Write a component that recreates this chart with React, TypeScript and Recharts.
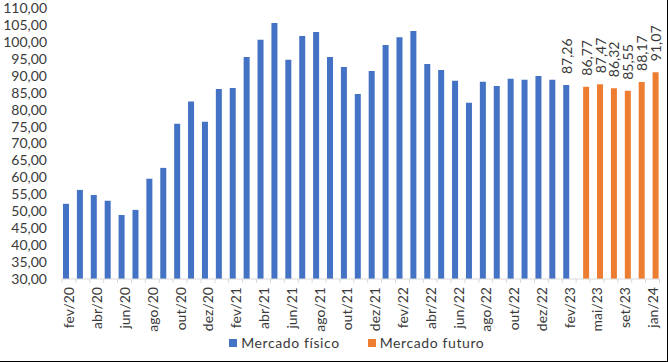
import { Bar, BarChart, LabelList, Legend, XAxis, YAxis } from 'recharts';

const CATEGORIES = [
  'fev/20', 'mar/20', 'abr/20', 'mai/20', 'jun/20', 'jul/20', 'ago/20', 'set/20', 'out/20', 'nov/20', 'dez/20',
  'jan/21', 'fev/21', 'mar/21', 'abr/21', 'mai/21', 'jun/21', 'jul/21', 'ago/21', 'set/21', 'out/21', 'nov/21', 'dez/21',
  'jan/22', 'fev/22', 'mar/22', 'abr/22', 'mai/22', 'jun/22', 'jul/22', 'ago/22', 'set/22', 'out/22', 'nov/22', 'dez/22',
  'jan/23', 'fev/23',
  'mar/23', 'mai/23', 'jul/23', 'set/23', 'nov/23', 'jan/24'
];

const FISICO = [
  52.2, 56.3, 54.8, 53.1, 48.9, 50.4, 59.6, 62.8, 75.8, 82.4, 76.4,
  86.1, 86.4, 95.5, 100.6, 105.6, 94.7, 101.7, 102.9, 95.5, 92.6, 84.6, 91.4,
  99.1, 101.4, 103.2, 93.5, 91.7, 88.5, 82.0, 88.2, 87.0, 89.1, 88.8, 89.9,
  88.8, 87.26
];

const FUTURO = [86.77, 87.47, 86.32, 85.55, 88.17, 91.07];

const Y_TICKS = [30, 35, 40, 45, 50, 55, 60, 65, 70, 75, 80, 85, 90, 95, 100, 105, 110];

const data = CATEGORIES.map((name, i) => ({
  name,
  fisico: i < FISICO.length ? FISICO[i] : null,
  futuro: i >= FISICO.length ? FUTURO[i - FISICO.length] : null
}));

const W = 667;
const H = 361;
const LEFT = 62;
const RIGHT = 7.5;
const BAND = (W - LEFT - RIGHT) / CATEGORIES.length;
const FONT = 'Lato, "Open Sans", sans-serif';
const TEXT = '#3a3a3a';
const BLUE = '#4472C4';
const ORANGE = '#ED7D31';
const AXIS = '#d9d9d9';

const fmt = (v: number) => v.toFixed(2).replace('.', ',');

const XTick = ({ x, y, payload }: any) => (
  <g>
    <line x1={x - BAND / 2} y1={y} x2={x - BAND / 2} y2={y + 4} stroke={AXIS} />
    <line x1={x + BAND / 2} y1={y} x2={x + BAND / 2} y2={y + 4} stroke={AXIS} />
    <text
      x={x}
      y={y + 8}
      transform={`rotate(-90 ${x} ${y + 8})`}
      textAnchor="end"
      dominantBaseline="central"
      fontSize={14}
      fontFamily={FONT}
      fill={TEXT}
    >
      {payload.value}
    </text>
  </g>
);

const ValueLabel = ({ x, y, width, value, onlyLast, index }: any) => {
  if (value == null) return null;
  if (onlyLast && index !== FISICO.length - 1) return null;
  const cx = x + width / 2;
  const cy = y - 11;
  return (
    <text
      x={cx}
      y={cy}
      transform={`rotate(-90 ${cx} ${cy})`}
      textAnchor="start"
      dominantBaseline="central"
      fontSize={14}
      fontFamily={FONT}
      fill={TEXT}
    >
      {fmt(Number(value))}
    </text>
  );
};

const LegendContent = () => (
  <div style={{ display: 'flex', justifyContent: 'center', gap: 28, fontFamily: FONT, fontSize: 14, color: TEXT, paddingLeft: LEFT - 8 }}>
    <div style={{ display: 'flex', alignItems: 'center', gap: 4 }}>
      <span style={{ width: 8, height: 8, background: BLUE, display: 'inline-block' }} />
      <span style={{ letterSpacing: 0.6 }}>Mercado físico</span>
    </div>
    <div style={{ display: 'flex', alignItems: 'center', gap: 4 }}>
      <span style={{ width: 8, height: 8, background: ORANGE, display: 'inline-block' }} />
      <span style={{ letterSpacing: 0.6 }}>Mercado futuro</span>
    </div>
  </div>
);

export default function App() {
  return (
    <div
      style={{
        position: 'absolute',
        left: 0,
        top: 0,
        width: 668,
        height: 362,
        boxSizing: 'border-box',
        borderRight: '1px solid #000',
        borderBottom: '1px solid #000',
        background: '#fff'
      }}
    >
      <BarChart
        width={W}
        height={H}
        data={data}
        margin={{ top: 8, right: RIGHT, left: 0, bottom: 0 }}
        barGap={2}
        barSize={6}
      >
        <XAxis
          dataKey="name"
          interval={1}
          height={55}
          axisLine={{ stroke: AXIS }}
          tickLine={false}
          tickSize={0}
          tickMargin={0}
          tick={<XTick />}
        />
        <YAxis
          width={LEFT}
          domain={[30, 110]}
          ticks={Y_TICKS}
          interval={0}
          axisLine={false}
          tickLine={false}
          tickMargin={9}
          tickFormatter={fmt}
          tick={{ fill: TEXT, fontSize: 14, fontFamily: FONT }}
        />
        <Legend verticalAlign="bottom" height={27} content={<LegendContent />} />
        <Bar dataKey="fisico" name="Mercado físico" fill={BLUE} isAnimationActive={false}>
          <LabelList dataKey="fisico" content={(p: any) => <ValueLabel {...p} onlyLast />} />
        </Bar>
        <Bar dataKey="futuro" name="Mercado futuro" fill={ORANGE} isAnimationActive={false}>
          <LabelList dataKey="futuro" content={(p: any) => <ValueLabel {...p} />} />
        </Bar>
      </BarChart>
    </div>
  );
}
